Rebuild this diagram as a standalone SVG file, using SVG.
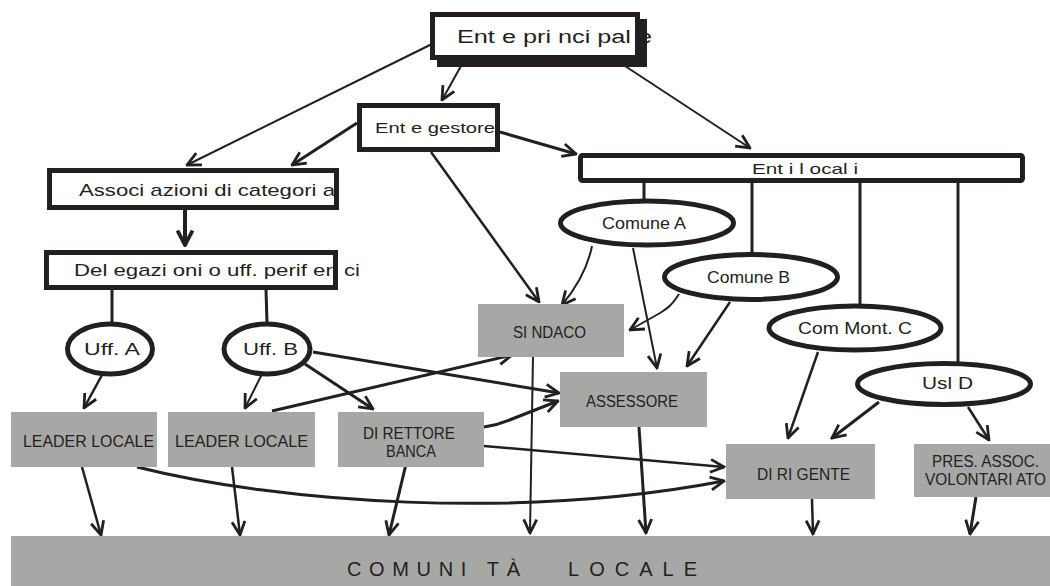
<svg xmlns="http://www.w3.org/2000/svg" width="1050" height="586" viewBox="0 0 1050 586">
<style>
.box{fill:none;stroke:#231f20;stroke-width:5}
.bg{fill:#fff}
.ell{fill:#fff;stroke:#231f20;stroke-width:5}
.grey{fill:#a7a7a5}
.t{font-family:"Liberation Sans Narrow","Liberation Sans",Arial,sans-serif;fill:#231f20}
.big{font-family:"Liberation Sans",Arial,sans-serif;fill:#231f20;font-size:20px}
.c{fill:none;stroke:#231f20;stroke-linecap:butt}
.w2{stroke-width:2}
.w25{stroke-width:2.5}
.w3{stroke-width:3}
.w4{stroke-width:4}
</style>
<defs>
<marker id="arr" viewBox="0 0 16 16" refX="14.5" refY="8" markerWidth="16" markerHeight="16" markerUnits="userSpaceOnUse" orient="auto">
<path d="M1,1.5 L14.5,8 L1,14.5" fill="none" stroke="#231f20" stroke-width="2.8" stroke-linejoin="miter"/>
</marker>
<marker id="arrb" viewBox="0 0 18 18" refX="16" refY="9" markerWidth="18" markerHeight="18" markerUnits="userSpaceOnUse" orient="auto">
<path d="M1.5,1.5 L16,9 L1.5,16.5" fill="none" stroke="#231f20" stroke-width="3.8" stroke-linejoin="miter"/>
</marker>
</defs>

<g id="connectors">
<path class="c w2" d="M432,44 L187,165" marker-end="url(#arr)"/>
<path class="c w2" d="M461,66 L442,100" marker-end="url(#arr)"/>
<path class="c w2" d="M625,66 L750,148" marker-end="url(#arr)"/>
<path class="c w3" d="M357,123 L292,165" marker-end="url(#arr)"/>
<path class="c w3" d="M500,132 L576,154" marker-end="url(#arr)"/>
<path class="c w25" d="M431,152 L539,302" marker-end="url(#arr)"/>
<path class="c w4" d="M185,210 L185,245" marker-end="url(#arrb)"/>
<path class="c w3" d="M112,289 L112,323"/>
<path class="c w3" d="M266,289 L267,323"/>
<path class="c w3" d="M644,182 L644,200"/>
<path class="c w3" d="M752,182 L752,254"/>
<path class="c w3" d="M860,182 L860,305"/>
<path class="c w3" d="M958,182 L958,370"/>
<path class="c w25" d="M102,375 L84,408" marker-end="url(#arr)"/>
<path class="c w2" d="M262,374 L245,408" marker-end="url(#arr)"/>
<path class="c w3" d="M305,364 L373,409" marker-end="url(#arr)"/>
<path class="c w3" d="M313,352 L559,393" marker-end="url(#arr)"/>
<path class="c w3" d="M272,411 L512,355" marker-end="url(#arr)"/>
<path class="c w3" d="M484,427 Q498,425 512,419 L558,401" marker-end="url(#arr)"/>
<path class="c w25" d="M484,446 L724,467" marker-end="url(#arr)"/>
<path class="c w3" d="M137,467 C280,503 520,520 724,481" marker-end="url(#arr)"/>
<path class="c w2" d="M592,246 Q586,276 562,305" marker-end="url(#arr)"/>
<path class="c w2" d="M633,248 L657,368" marker-end="url(#arr)"/>
<path class="c w2" d="M679,294 C672,305 668,308 660,313 L630,330" marker-end="url(#arr)"/>
<path class="c w25" d="M730,302 L687,366" marker-end="url(#arr)"/>
<path class="c w25" d="M818,352 L788,438" marker-end="url(#arr)"/>
<path class="c w3" d="M879,402 L832,438" marker-end="url(#arr)"/>
<path class="c w25" d="M968,407 L989,440" marker-end="url(#arr)"/>
<path class="c w2" d="M533,356 L530,533" marker-end="url(#arr)"/>
<path class="c w3" d="M639,427 L646,533" marker-end="url(#arr)"/>
<path class="c w25" d="M82,467 L101,535" marker-end="url(#arr)"/>
<path class="c w25" d="M232,467 L240,535" marker-end="url(#arr)"/>
<path class="c w3" d="M407,460 L389,535" marker-end="url(#arr)"/>
<path class="c w25" d="M812,499 L813,534" marker-end="url(#arr)"/>
<path class="c w3" d="M976,497 L970,534" marker-end="url(#arr)"/>
</g>

<g id="ente-principale">
<rect x="437" y="19" width="210" height="48" fill="#231f20"/>
<rect class="bg" x="432.5" y="14.5" width="205" height="43"/>
<text class="t" x="457" y="43" font-size="18" textLength="195" lengthAdjust="spacingAndGlyphs">Ent e pri nci pal e</text>
<rect class="box" x="432.5" y="14.5" width="205" height="43"/>
</g>

<g id="ente-gestore">
<rect class="bg" x="359.5" y="105.5" width="138" height="44"/>
<text class="t" x="375" y="133" font-size="15" textLength="120" lengthAdjust="spacingAndGlyphs">Ent e gestore</text>
<rect class="box" x="359.5" y="105.5" width="138" height="44"/>
</g>

<g id="enti-locali">
<rect class="bg" x="580.5" y="155.5" width="442" height="25" rx="2"/>
<text class="t" x="752" y="174" font-size="15" textLength="106" lengthAdjust="spacingAndGlyphs">Ent i l ocal i</text>
<rect class="box" x="580.5" y="155.5" width="442" height="25" rx="2"/>
</g>

<g id="associazioni">
<rect class="bg" x="49.5" y="170.5" width="287" height="37"/>
<text class="t" x="79" y="196" font-size="17" textLength="256" lengthAdjust="spacingAndGlyphs">Associ azioni di categori a</text>
<rect class="box" x="49.5" y="170.5" width="287" height="37"/>
</g>

<g id="delegazioni">
<rect class="bg" x="46.5" y="252.5" width="289" height="35"/>
<text class="t" x="74" y="276" font-size="17" textLength="286" lengthAdjust="spacingAndGlyphs">Del egazi oni o uff. perif eri ci</text>
<rect class="box" x="46.5" y="252.5" width="289" height="35"/>
</g>

<g id="uff-a">
<ellipse class="ell" cx="110" cy="349" rx="42.5" ry="25"/>
<text class="t" x="84" y="355" font-size="16" textLength="56" lengthAdjust="spacingAndGlyphs">Uff. A</text>
</g>
<g id="uff-b">
<ellipse class="ell" cx="267" cy="349" rx="43" ry="25"/>
<text class="t" x="243" y="355" font-size="16" textLength="55" lengthAdjust="spacingAndGlyphs">Uff. B</text>
</g>

<g id="comune-a">
<ellipse class="ell" cx="647" cy="223" rx="86.5" ry="22"/>
<text class="t" x="602" y="229" font-size="17" textLength="84" lengthAdjust="spacingAndGlyphs">Comune A</text>
</g>
<g id="comune-b">
<ellipse class="ell" cx="751" cy="277" rx="86.5" ry="22.5"/>
<text class="t" x="707" y="283" font-size="17" textLength="83" lengthAdjust="spacingAndGlyphs">Comune B</text>
</g>
<g id="com-mont-c">
<ellipse class="ell" cx="855" cy="328" rx="86" ry="22"/>
<text class="t" x="798" y="334" font-size="17" textLength="114" lengthAdjust="spacingAndGlyphs">Com Mont. C</text>
</g>
<g id="usl-d">
<ellipse class="ell" cx="944" cy="384" rx="86.5" ry="20.5"/>
<text class="t" x="922" y="389" font-size="17" textLength="51" lengthAdjust="spacingAndGlyphs">Usl D</text>
</g>

<g id="sindaco">
<rect class="grey" x="478" y="304" width="146" height="53"/>
<text class="t" x="513" y="338" font-size="16" textLength="73" lengthAdjust="spacingAndGlyphs">SI NDACO</text>
</g>
<g id="assessore">
<rect class="grey" x="560" y="372" width="147" height="55"/>
<text class="t" x="586" y="407" font-size="16" textLength="92" lengthAdjust="spacingAndGlyphs">ASSESSORE</text>
</g>
<g id="leader-locale-1">
<rect class="grey" x="11" y="412" width="146" height="55"/>
<text class="t" x="23" y="447" font-size="16" textLength="131" lengthAdjust="spacingAndGlyphs">LEADER LOCALE</text>
</g>
<g id="leader-locale-2">
<rect class="grey" x="168" y="412" width="147" height="55"/>
<text class="t" x="175" y="447" font-size="16" textLength="133" lengthAdjust="spacingAndGlyphs">LEADER LOCALE</text>
</g>
<g id="direttore-banca">
<rect class="grey" x="338" y="412" width="146" height="55"/>
<text class="t" x="363" y="439" font-size="16" textLength="92" lengthAdjust="spacingAndGlyphs">DI RETTORE</text>
<text class="t" x="386" y="457" font-size="16" textLength="50" lengthAdjust="spacingAndGlyphs">BANCA</text>
</g>
<g id="dirigente">
<rect class="grey" x="726" y="444" width="149" height="55"/>
<text class="t" x="757" y="480" font-size="16" textLength="93" lengthAdjust="spacingAndGlyphs">DI RI GENTE</text>
</g>
<g id="pres-assoc">
<rect class="grey" x="914" y="444" width="136" height="53"/>
<text class="t" x="932" y="467" font-size="16" textLength="107" lengthAdjust="spacingAndGlyphs">PRES. ASSOC.</text>
<text class="t" x="925" y="485" font-size="16" textLength="121" lengthAdjust="spacingAndGlyphs">VOLONTARI ATO</text>
</g>
<g id="comunita-locale">
<rect class="grey" x="11" y="536" width="1039" height="50"/>
<text class="big" x="347" y="576" textLength="173" lengthAdjust="spacing">COMUNI TÀ</text>
<text class="big" x="568" y="576" textLength="129" lengthAdjust="spacing">LOCALE</text>
</g>
</svg>
